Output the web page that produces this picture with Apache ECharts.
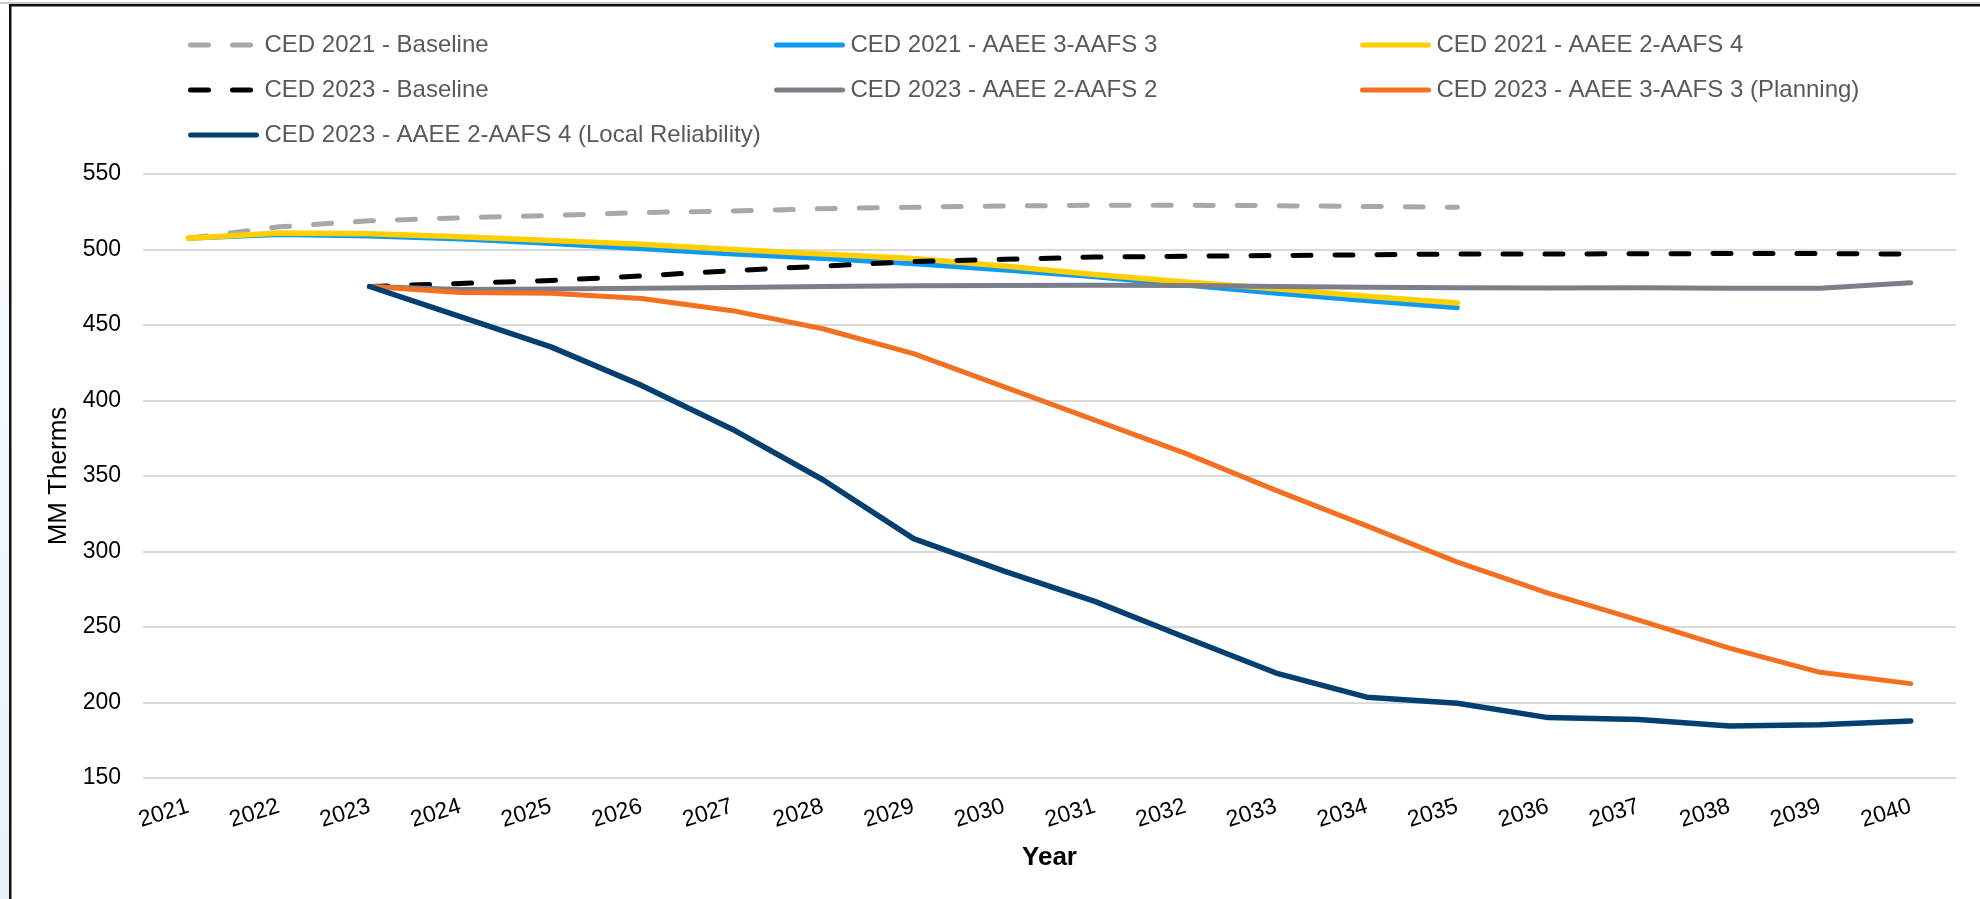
<!DOCTYPE html>
<html>
<head>
<meta charset="utf-8">
<title>MM Therms by Year</title>
<script src="https://cdn.jsdelivr.net/npm/echarts@6/dist/echarts.min.js"></script>
<style>
  html, body { margin: 0; padding: 0; background: #ffffff; }
  #chart { width: 1980px; height: 899px; }
</style>
</head>
<body>
<div id="chart"></div>
<script>
// Forecast years on the category axis
const years = ['2021','2022','2023','2024','2025','2026','2027','2028','2029','2030',
               '2031','2032','2033','2034','2035','2036','2037','2038','2039','2040'];

// CED 2021 forecasts (2021–2035)
const ced2021Baseline = [507.5, 515, 519, 521, 522.5, 524.5, 525.5, 527, 528, 528.8,
                         529.3, 529.3, 529, 528.5, 528];
const ced2021Aaee3Aafs3 = [507.5, 510, 509, 507, 504, 500.5, 497, 494, 490.5, 486.5,
                           482, 476.5, 471, 466, 461.5];
const ced2021Aaee2Aafs4 = [507.5, 511, 510.5, 508.5, 506, 503.5, 500, 497, 494, 489,
                           483.5, 478.5, 474, 469, 464.5];

// CED 2023 forecasts (2023–2040)
const ced2023Baseline = [475.5, 477.5, 479.5, 482.5, 486, 489, 492, 493.5, 495, 495.5,
                         496, 496.5, 497, 497, 497.2, 497.3, 497.3, 497];
const ced2023Aaee2Aafs2 = [475.5, 473.5, 473.8, 474.3, 474.8, 475.5, 476, 476.2, 476.3, 476.1,
                           475.5, 475, 474.7, 474.5, 474.6, 474.3, 474.4, 478];
const ced2023Planning = [475.5, 471.5, 471, 467.5, 459.5, 447.5, 431, 409, 387, 365,
                         340.5, 317, 293, 272.5, 254.5, 236, 220, 212.5];
const ced2023LocalReliability = [475.5, 455.5, 435.5, 410, 381, 347.5, 308.5, 287, 267, 243,
                                 219.5, 203.5, 199.5, 190, 188.7, 184.5, 185.2, 187.8];

// Y axis ticks
const yMin = 150, yMax = 550, yStep = 50;

const FONT = "'Liberation Sans', Arial, Helvetica, sans-serif";

// Align each series to the full year range: CED 2021 runs from the first year,
// CED 2023 starts in 2023.
function fromStart(vals) {
  return years.map((_, i) => (i < vals.length ? vals[i] : null));
}
function from2023(vals) {
  const off = years.indexOf('2023');
  return years.map((_, i) => (i >= off && i - off < vals.length ? vals[i - off] : null));
}

function lineSeries(name, data, color, width, dashed) {
  return {
    name: name,
    type: 'line',
    data: data,
    symbol: 'none',
    connectNulls: false,
    lineStyle: {
      color: color,
      width: width,
      type: dashed ? [18, 24] : 'solid',
      cap: 'round',
      join: 'round'
    },
    itemStyle: { color: color },
    emphasis: { disabled: true }
  };
}

const names = {
  b21: 'CED 2021 - Baseline',
  a21: 'CED 2021 - AAEE 3-AAFS 3',
  y21: 'CED 2021 - AAEE 2-AAFS 4',
  b23: 'CED 2023 - Baseline',
  g23: 'CED 2023 - AAEE 2-AAFS 2',
  o23: 'CED 2023 - AAEE 3-AAFS 3 (Planning)',
  d23: 'CED 2023 - AAEE 2-AAFS 4 (Local Reliability)'
};

// One vertical legend per column; the icon is the series line only (no marker).
function legendColumn(left, items) {
  return {
    orient: 'vertical',
    left: left,
    top: 28,
    itemWidth: 66,
    itemHeight: 24,
    itemGap: 21,
    data: items,
    selectedMode: false,
    itemStyle: { opacity: 0 },
    lineStyle: { width: 5, type: 'inherit', cap: 'round' },
    textStyle: { fontFamily: FONT, fontSize: 24, color: '#595959', padding: [0, 0, 0, 3] }
  };
}

const chart = echarts.init(document.getElementById('chart'), null, { renderer: 'canvas' });

chart.setOption({
  backgroundColor: '#ffffff',
  animation: false,
  textStyle: { fontFamily: FONT },
  graphic: [
    // faint tint along the left edge
    { type: 'rect', left: 0, top: 0, shape: { width: 9, height: 899 },
      style: { fill: new echarts.graphic.LinearGradient(0, 0, 0, 1,
        [{ offset: 0, color: '#ffffff' }, { offset: 1, color: '#e8f0f8' }]) }, silent: true },
    // frame: top and left rules
    { type: 'rect', left: 0, top: 2, shape: { width: 1980, height: 2 },
      style: { fill: '#c8c8c8' }, silent: true },
    { type: 'rect', left: 9, top: 4, shape: { width: 1971, height: 2.5 },
      style: { fill: '#111111' }, silent: true },
    { type: 'rect', left: 9, top: 4, shape: { width: 2.5, height: 895 },
      style: { fill: '#111111' }, silent: true }
  ],
  legend: [
    legendColumn(183, [names.b21, names.b23, names.d23]),
    legendColumn(769, [names.a21, names.g23]),
    legendColumn(1355, [names.y21, names.o23])
  ],
  grid: { left: 143, right: 24, top: 174, bottom: 121 },
  xAxis: {
    type: 'category',
    data: years,
    boundaryGap: true,
    name: 'Year',
    nameLocation: 'middle',
    nameGap: 67,
    nameTextStyle: { fontFamily: FONT, fontSize: 26, fontWeight: 'bold', color: '#000000' },
    axisLine: { show: false },
    axisTick: { show: false },
    axisLabel: { rotate: 17, margin: 28, fontFamily: FONT, fontSize: 23, color: '#000000', interval: 0 }
  },
  yAxis: {
    type: 'value',
    min: yMin,
    max: yMax,
    interval: yStep,
    name: 'MM Therms',
    nameLocation: 'middle',
    nameGap: 66,
    nameRotate: 90,
    nameTextStyle: { fontFamily: FONT, fontSize: 26, color: '#000000' },
    axisLine: { show: false },
    axisTick: { show: false },
    axisLabel: { margin: 22, fontFamily: FONT, fontSize: 23, color: '#000000' },
    splitLine: { lineStyle: { color: '#d9d9d9', width: 2 } }
  },
  series: [
    lineSeries(names.b21, fromStart(ced2021Baseline), '#a5a8ad', 5, true),
    lineSeries(names.a21, fromStart(ced2021Aaee3Aafs3), '#0f9af2', 5, false),
    lineSeries(names.y21, fromStart(ced2021Aaee2Aafs4), '#ffcf00', 5.5, false),
    lineSeries(names.b23, from2023(ced2023Baseline), '#000000', 5, true),
    lineSeries(names.g23, from2023(ced2023Aaee2Aafs2), '#7b7f89', 5, false),
    lineSeries(names.o23, from2023(ced2023Planning), '#f37021', 5, false),
    lineSeries(names.d23, from2023(ced2023LocalReliability), '#033f70', 5.5, false)
  ]
});
</script>
</body>
</html>
